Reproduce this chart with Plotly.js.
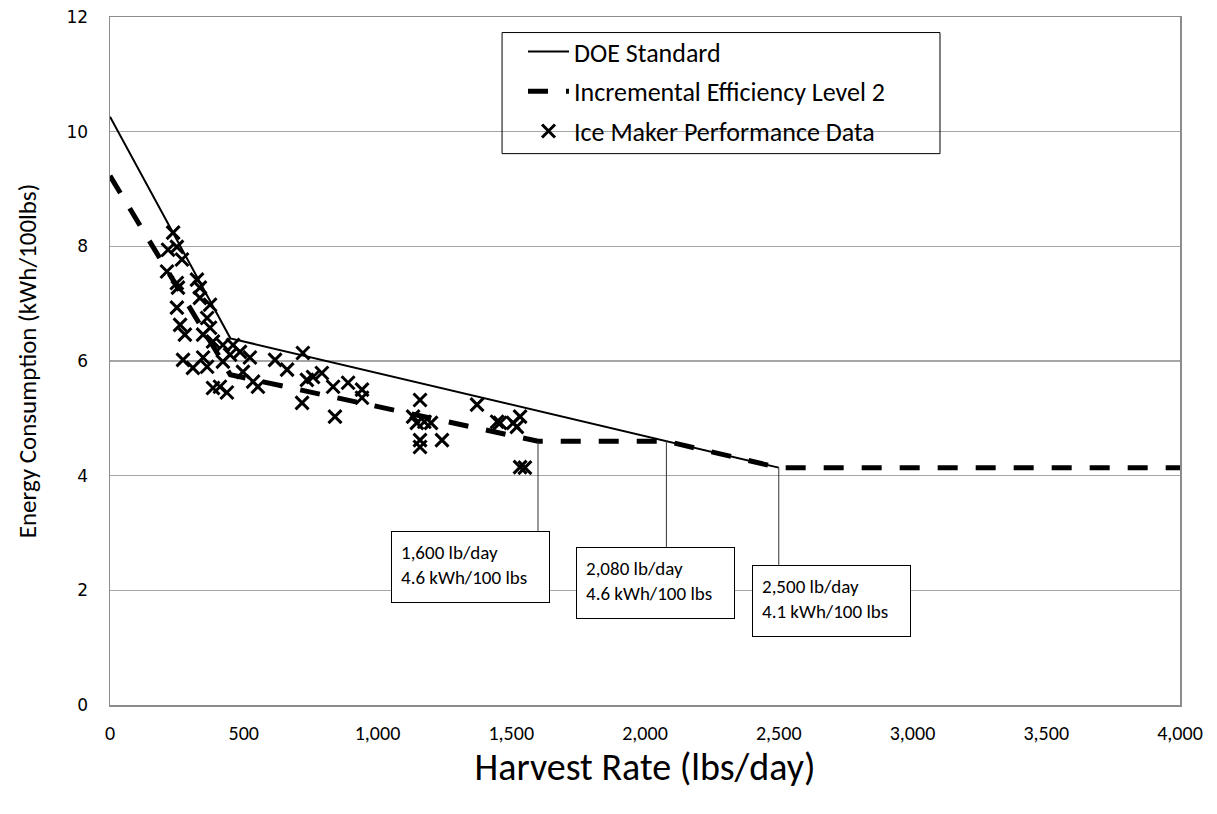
<!DOCTYPE html>
<html>
<head>
<meta charset="utf-8">
<script src="https://cdn.plot.ly/plotly-3.0.1.min.js"></script>
<style>
  html, body { margin: 0; padding: 0; background: #fff; }
  #chart { width: 1217px; height: 814px; }
</style>
</head>
<body>
<div id="chart"></div>
<script>
// ---- Data ----
const doeX = [0, 450, 2500];
const doeY = [10.26, 6.395, 4.14];

const iel2X = [0, 450, 1600, 2080, 2500, 4000];
const iel2Y = [9.23, 5.76, 4.6, 4.6, 4.14, 4.14];

const iceX = [236, 250, 217, 269, 213, 250, 325, 254, 336, 336, 374, 250, 262, 280, 363, 374,
              348, 385, 422, 460, 449, 486, 523, 273, 310, 348, 363, 422, 497, 535, 385, 411,
              437, 553, 617, 662, 721, 736, 718, 759, 792, 834, 890, 942, 942, 841, 1159, 1133,
              1147, 1175, 1200, 1159, 1159, 1241, 1372, 1447, 1458, 1507, 1533, 1521, 1533, 1551];
const iceY = [8.24, 7.99, 7.94, 7.77, 7.56, 7.36, 7.42, 7.28, 7.28, 7.10, 6.98, 6.93, 6.63, 6.46, 6.75, 6.58,
              6.46, 6.34, 6.28, 6.28, 6.11, 6.16, 6.06, 6.02, 5.88, 6.06, 5.90, 5.99, 5.81, 5.64, 5.53, 5.55,
              5.45, 5.55, 6.02, 5.85, 6.14, 5.67, 5.27, 5.72, 5.79, 5.55, 5.62, 5.50, 5.36, 5.03, 5.32, 5.03,
              4.92, 4.94, 4.92, 4.62, 4.50, 4.62, 5.24, 4.94, 4.92, 4.92, 5.03, 4.85, 4.15, 4.14];

const calloutX = [1600, 2080, 2500];
const calloutY = [4.6, 4.6, 4.14];
const calloutText = [
  "1,600 lb/day<br>4.6 kWh/100 lbs",
  "2,080 lb/day<br>4.6 kWh/100 lbs",
  "2,500 lb/day<br>4.1 kWh/100 lbs"
];

// ---- Layout helpers (box placement in paper coords) ----
const boxLeft = [0.2626, 0.4355, 0.6000];
const boxTop  = [0.2531, 0.2298, 0.2036];

const FONT = "Carlito, Calibri, Lato, sans-serif";

const traces = [
  {
    x: doeX, y: doeY, type: "scatter", mode: "lines",
    name: "DOE Standard",
    line: { color: "#000", width: 2 },
    legendrank: 1, legendgroup: "a"
  },
  {
    x: iel2X, y: iel2Y, type: "scatter", mode: "lines",
    name: "Incremental Efficiency Level 2",
    line: { color: "#000", width: 5, dash: "20px,18px" },
    legendrank: 2, legendgroup: "b"
  },
  {
    x: iceX, y: iceY, type: "scatter", mode: "markers",
    name: "Ice Maker Performance Data",
    marker: { symbol: "x-thin-open", size: 13, color: "#000", line: { color: "#000", width: 3 } },
    legendrank: 3, legendgroup: "c"
  }
];

const shapes = calloutX.map((cx, i) => ({
  type: "line", xref: "x", yref: "y",
  x0: cx, x1: cx, y0: calloutY[i], y1: boxTop[i] * 12,
  line: { color: "#333", width: 1 }
}));
// legend frame
shapes.push({
  type: "rect", xref: "paper", yref: "paper",
  x0: 0.3664, x1: 0.7757, y0: 0.8014, y1: 0.9774,
  line: { color: "#000", width: 1 }, fillcolor: "rgba(0,0,0,0)", layer: "above"
});

const annotations = calloutText.map((t, i) => ({
  xref: "paper", yref: "paper",
  x: boxLeft[i], y: boxTop[i],
  xanchor: "left", yanchor: "top",
  text: t, showarrow: false, align: "left", valign: "top",
  width: 139, height: 52, borderpad: 9,
  bordercolor: "#000", borderwidth: 1, bgcolor: "#fff",
  font: { family: FONT, size: 19, color: "#000" }
}));

const layout = {
  width: 1217, height: 814,
  margin: { l: 110, r: 37, t: 17, b: 109 },
  paper_bgcolor: "#fff", plot_bgcolor: "#fff",
  font: { family: FONT, color: "#000" },
  separators: ".,",
  showlegend: true,
  legend: {
    x: 0.386, y: 0.984, xanchor: "left", yanchor: "top",
    borderwidth: 0, bgcolor: "rgba(255,255,255,0)",
    font: { family: FONT, size: 26, color: "#000" },
    traceorder: "grouped", tracegroupgap: 3, itemwidth: 41
  },
  xaxis: {
    range: [0, 4000], dtick: 500, tick0: 0, tickformat: ",d",
    showgrid: false, zeroline: false,
    showline: true, linecolor: "#8c8c8c", linewidth: 1.5, mirror: true,
    ticks: "", ticklabelstandoff: 9,
    tickfont: { family: FONT, size: 20 },
    title: { text: "Harvest Rate (lbs/day)", font: { family: FONT, size: 38 }, standoff: 3 }
  },
  yaxis: {
    range: [0, 12], dtick: 2, tick0: 0,
    showgrid: true, gridcolor: "#a6a6a6", gridwidth: 1.5, zeroline: false,
    showline: true, linecolor: "#8c8c8c", linewidth: 1.5, mirror: true,
    ticks: "", ticklabelstandoff: 17,
    tickfont: { family: "DejaVu Sans, sans-serif", size: 17 },
    title: { text: "Energy Consumption (kWh/100lbs)", font: { family: FONT, size: 25 }, standoff: 22 }
  },
  shapes: shapes,
  annotations: annotations
};

Plotly.newPlot("chart", traces, layout, { displayModeBar: false, staticPlot: true });
</script>
</body>
</html>
